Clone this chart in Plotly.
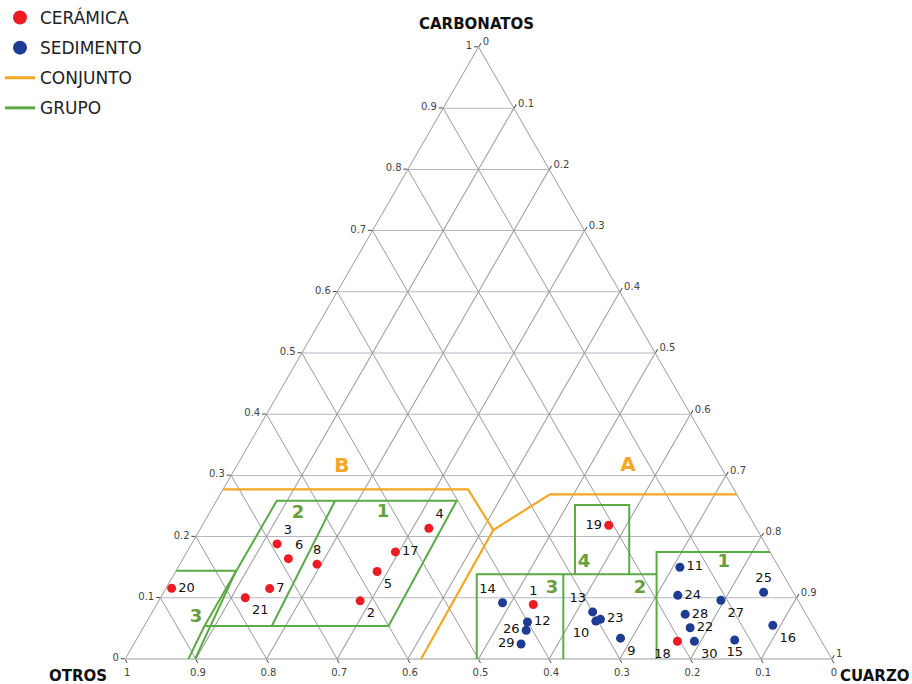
import plotly.graph_objects as go

# ---------------- data (fractions: carbonatos = a, otros = b, cuarzo = c) ----------------
cer_labels = ["20", "3", "6", "8", "7", "21", "2", "5", "17", "4", "19", "1", "18"]
cer_carbonatos = [0.1155, 0.188, 0.164, 0.155, 0.115, 0.100, 0.095, 0.143, 0.175, 0.2135, 0.2185, 0.089, 0.029]
cer_otros = [0.8765, 0.691, 0.687, 0.651, 0.738, 0.780, 0.620, 0.572, 0.530, 0.4635, 0.2065, 0.378, 0.204]
cer_cuarzo = [0.008, 0.121, 0.149, 0.194, 0.147, 0.120, 0.285, 0.285, 0.295, 0.323, 0.575, 0.533, 0.767]
cer_textpos = ["middle right", "top right", "top right", "top center", "middle right", "bottom right",
               "bottom right", "bottom right", "middle right", "top right", "middle left", "top center",
               "bottom left"]

sed_labels = ["14", "12", "26", "29", "13", "23", "10", "9", "11", "24", "28", "22", "30", "27", "25", "16", "15"]
sed_carbonatos = [0.092, 0.0605, 0.047, 0.0245, 0.077, 0.065, 0.062, 0.034, 0.150, 0.104, 0.073, 0.051, 0.029,
                  0.096, 0.109, 0.055, 0.031]
sed_otros = [0.420, 0.4005, 0.409, 0.4275, 0.300, 0.295, 0.303, 0.282, 0.140, 0.166, 0.171, 0.175, 0.180,
             0.109, 0.042, 0.056, 0.122]
sed_cuarzo = [0.488, 0.539, 0.544, 0.548, 0.623, 0.640, 0.635, 0.684, 0.710, 0.730, 0.756, 0.774, 0.791,
              0.795, 0.849, 0.889, 0.847]
sed_textpos = ["top left", "middle right", "middle left", "middle left", "top left", "middle right",
               "bottom left", "bottom right", "middle right", "middle right", "middle right", "middle right",
               "bottom right", "bottom right", "top center", "bottom right", "bottom center"]

# CONJUNTO boundaries (orange), segments separated by None
conj_carbonatos = [0.2773, 0.2773, 0.2108, 0.0, None, 0.2108, 0.269, 0.269]
conj_otros = [0.7227, 0.3762, 0.3737, 0.5813, None, 0.3737, 0.2644, 0.0]
conj_cuarzo = [0.0, 0.3465, 0.4155, 0.4187, None, 0.4155, 0.4666, 0.731]

# GRUPO boundaries (green), segments separated by None
grp_carbonatos = [0.0, 0.054, 0.2587, 0.2587, 0.054, 0.054, None,
                  0.2587, 0.054, None,
                  0.1443, 0.1443, 0.0, None,
                  0.0, 0.1384, 0.1384, None,
                  0.1384, 0.0, None,
                  0.1384, 0.2516, 0.2516, 0.1384, None,
                  0.0, 0.1748, 0.1748]
grp_otros = [0.9105, 0.8608, 0.6561, 0.4015, 0.6003, 0.8608, None,
             0.5736, 0.7655, None,
             0.8557, 0.7708, 0.901, None,
             0.5025, 0.4333, 0.1788, None,
             0.3108, 0.38, None,
             0.2943, 0.2377, 0.1609, 0.2175, None,
             0.248, 0.1606, 0.0]
grp_cuarzo = [0.0895, 0.0852, 0.0852, 0.3398, 0.3457, 0.0852, None,
              0.1677, 0.1805, None,
              0.0, 0.0849, 0.099, None,
              0.4975, 0.4283, 0.6828, None,
              0.5508, 0.62, None,
              0.5673, 0.5107, 0.5875, 0.6441, None,
              0.752, 0.6646, 0.8252]

# group labels
grp_lab_text = ["1", "2", "3", "3", "2", "4", "1"]
grp_lab_carbonatos = [0.2386, 0.237, 0.0686, 0.116, 0.116, 0.1569, 0.1569]
grp_lab_otros = [0.5158, 0.6368, 0.8653, 0.338, 0.2136, 0.2723, 0.0743]
grp_lab_cuarzo = [0.2456, 0.1262, 0.0661, 0.546, 0.6704, 0.5708, 0.7688]

# conjunto labels
conj_lab_text = ["A", "B"]
conj_lab_carbonatos = [0.3154, 0.3137]
conj_lab_otros = [0.1308, 0.5363]
conj_lab_cuarzo = [0.5538, 0.15]

RED = "#ec1c24"
BLUE = "#1f3c94"
ORANGE = "#f5a623"
GREEN = "#5aab46"
GREEN_TXT = "#66a03e"
FONT = "DejaVu Sans"

fig = go.Figure()

fig.add_trace(go.Scatterternary(
    a=conj_carbonatos, b=conj_otros, c=conj_cuarzo, mode="lines",
    line=dict(color=ORANGE, width=2.2), showlegend=False, hoverinfo="skip"))
fig.add_trace(go.Scatterternary(
    a=grp_carbonatos, b=grp_otros, c=grp_cuarzo, mode="lines",
    line=dict(color=GREEN, width=2), showlegend=False, hoverinfo="skip"))

fig.add_trace(go.Scatterternary(
    a=cer_carbonatos, b=cer_otros, c=cer_cuarzo, mode="markers+text",
    text=cer_labels, textposition=cer_textpos,
    textfont=dict(family=FONT, size=13, color="#111"),
    marker=dict(color=RED, size=9), showlegend=False, name="CERÁMICA"))
fig.add_trace(go.Scatterternary(
    a=sed_carbonatos, b=sed_otros, c=sed_cuarzo, mode="markers+text",
    text=sed_labels, textposition=sed_textpos,
    textfont=dict(family=FONT, size=13, color="#111"),
    marker=dict(color=BLUE, size=9), showlegend=False, name="SEDIMENTO"))

fig.add_trace(go.Scatterternary(
    a=grp_lab_carbonatos, b=grp_lab_otros, c=grp_lab_cuarzo, mode="text",
    text=grp_lab_text, textfont=dict(family=FONT, size=18, color=GREEN_TXT, weight="bold"),
    showlegend=False, hoverinfo="skip"))
fig.add_trace(go.Scatterternary(
    a=conj_lab_carbonatos, b=conj_lab_otros, c=conj_lab_cuarzo, mode="text",
    text=conj_lab_text, textfont=dict(family=FONT, size=20, color=ORANGE, weight="bold"),
    showlegend=False, hoverinfo="skip"))

# legend entries
fig.add_trace(go.Scatterternary(a=[None], b=[None], c=[None], mode="markers", legendgroup="g1",
                                marker=dict(color=RED, size=14), name="CERÁMICA"))
fig.add_trace(go.Scatterternary(a=[None], b=[None], c=[None], mode="markers", legendgroup="g2",
                                marker=dict(color=BLUE, size=14), name="SEDIMENTO"))
fig.add_trace(go.Scatterternary(a=[None], b=[None], c=[None], mode="lines", legendgroup="g3",
                                line=dict(color=ORANGE, width=3), name="CONJUNTO"))
fig.add_trace(go.Scatterternary(a=[None], b=[None], c=[None], mode="lines", legendgroup="g4",
                                line=dict(color=GREEN, width=3), name="GRUPO"))

def axis(gridcolor):
    return dict(
        min=0, tickmode="linear", tick0=0, dtick=0.1,
        ticks="outside", ticklen=4, tickcolor="#444", tickwidth=1,
        tickfont=dict(family=FONT, size=10, color="#444"),
        showgrid=True, gridcolor=gridcolor, gridwidth=1,
        showline=True, linecolor="#9a9a9a", linewidth=1,
        title=dict(text=""), layer="below traces")

fig.update_layout(
    width=912, height=684,
    margin=dict(l=125, r=80, t=47, b=25, autoexpand=False),
    paper_bgcolor="white",
    font=dict(family=FONT, color="#222"),
    ternary=dict(
        sum=1, bgcolor="white",
        domain=dict(x=[0, 1], y=[0, 1]),
        aaxis=axis("#b4b8c4"),
        baxis=axis("#9a9a9a"),
        caxis=axis("#9a9a9a"),
    ),
    legend=dict(xref="container", yref="container", x=0.0, y=1.0,
                xanchor="left", yanchor="top", traceorder="grouped", tracegroupgap=5,
                font=dict(family=FONT, size=17, color="#222"),
                bgcolor="rgba(0,0,0,0)", itemwidth=30),
    annotations=[
        dict(text="<b>CARBONATOS</b>", xref="paper", yref="paper", x=0.4965, y=1.0376,
             xanchor="center", yanchor="middle",
             showarrow=False, font=dict(family=FONT, size=15, color="#111")),
        dict(text="<b>OTROS</b>", xref="paper", yref="paper", x=-0.0665, y=-0.028,
             xanchor="center", yanchor="middle",
             showarrow=False, font=dict(family=FONT, size=15, color="#111")),
        dict(text="<b>CUARZO</b>", xref="paper", yref="paper", x=1.0608, y=-0.028,
             xanchor="center", yanchor="middle",
             showarrow=False, font=dict(family=FONT, size=15, color="#111")),
    ],
)

fig.write_html("out.html")
